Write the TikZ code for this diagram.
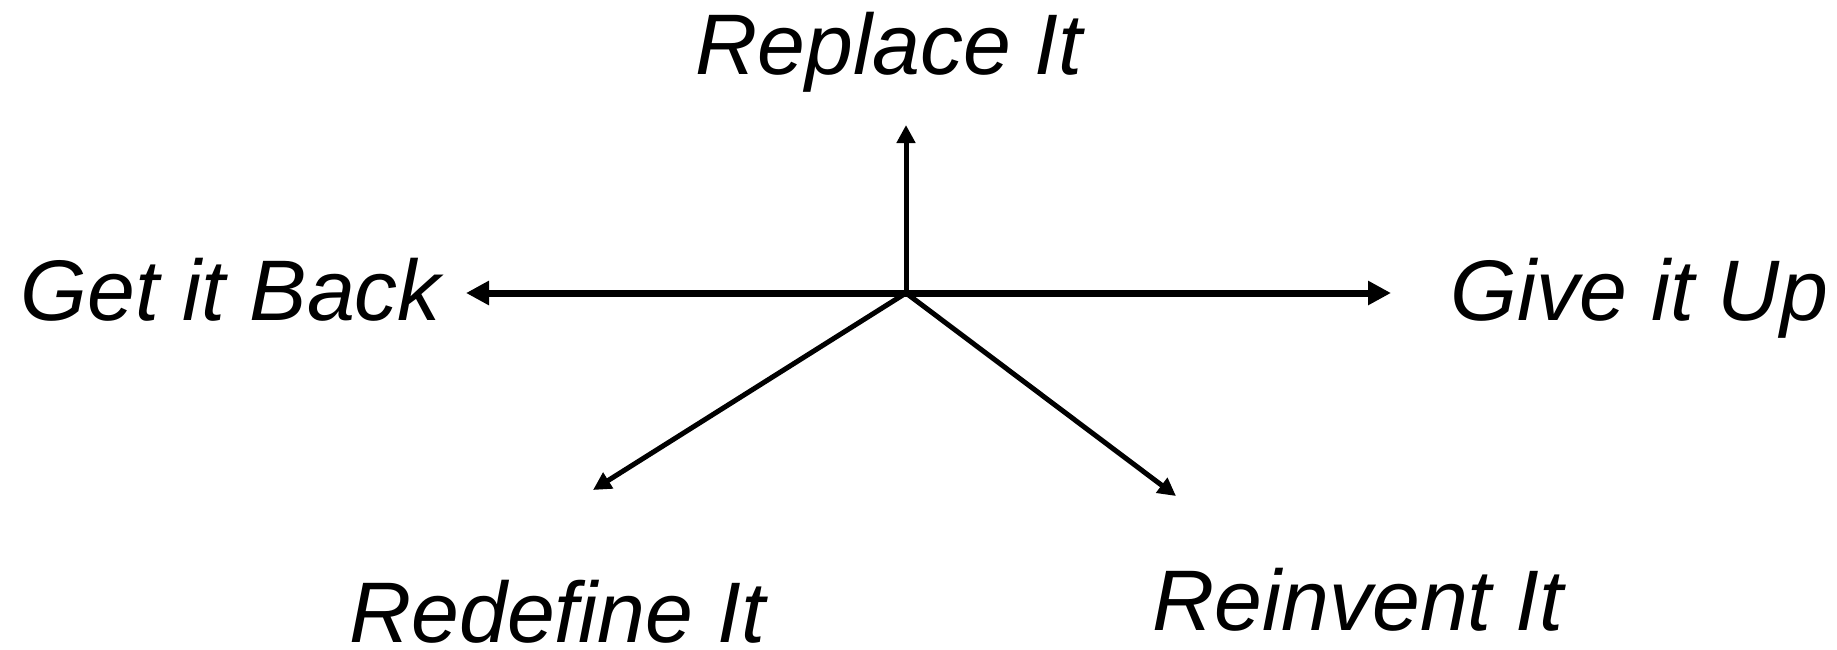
\documentclass[tikz,border=0pt]{standalone}
\usepackage{fontspec}
\setmainfont{Liberation Sans}
\usetikzlibrary{arrows.meta}
\tikzset{
  option/.style={font=\fontsize{43}{50}\selectfont\itshape, inner sep=0pt, anchor=base west},
  bigmove/.style={line width=3.5pt, -{Triangle[length=11.5pt,width=11.5pt]}},
  move/.style={line width=2.5pt, -{Triangle[length=9pt,width=9pt]}},
}
\begin{document}
\begin{tikzpicture}[x=0.5pt,y=-0.5pt]
  \useasboundingbox (0,0) rectangle (1837,649);
  % the five ways out
  \node[option] (replace) at (695,74) {Replace It};
  \node[option] (back) at (20,320) {Get it Back};
  \node[option] (giveup) at (1450,320) {Give it Up};
  \node[option] (redefine) at (349,642) {Redefine It};
  \node[option] (reinvent) at (1152,630) {Reinvent It};
  % arrows from the middle
  \coordinate (hub) at (906,293);
  \coordinate (upTip) at (906,125);
  \coordinate (backTip) at (466,293);
  \coordinate (giveTip) at (1391,293);
  \coordinate (redefTip) at (593,490);
  \coordinate (reinvTip) at (1176,496);
  \draw[bigmove] (hub) -- (backTip);
  \draw[bigmove] (hub) -- (giveTip);
  \draw[move] (hub) -- (upTip);
  \draw[move] (hub) -- (redefTip);
  \draw[move] (hub) -- (reinvTip);
\end{tikzpicture}
\end{document}
